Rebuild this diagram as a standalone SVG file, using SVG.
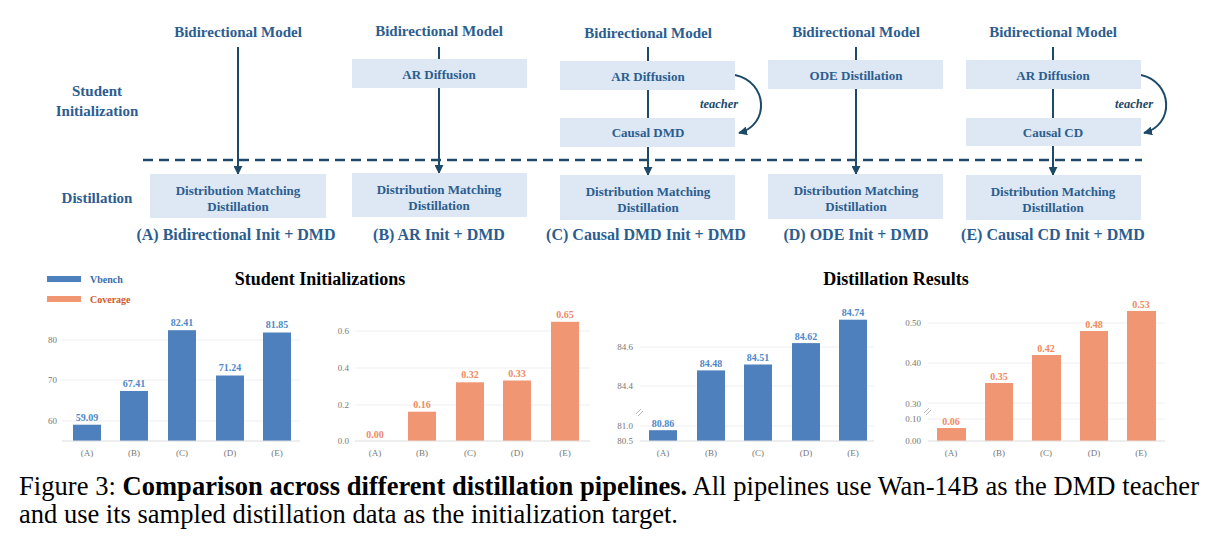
<svg xmlns="http://www.w3.org/2000/svg" width="1219" height="550" viewBox="0 0 1219 550">
<defs>
<marker id="ah2" viewBox="0 0 10 10" refX="9" refY="5" markerWidth="9" markerHeight="9" orient="auto" markerUnits="userSpaceOnUse">
<path d="M0,0 L10,5 L0,10 z" fill="#1c4a68"/>
</marker>
<style>
text{font-family:"Liberation Serif","Times New Roman",serif}
.t{font-size:15px;font-weight:bold;fill:#2c5d8f;text-anchor:middle}
.l{font-size:16px;font-weight:bold;fill:#2c5d8f;text-anchor:middle}
.b{font-size:13px;font-weight:bold;fill:#2c5d8f;text-anchor:middle}
.box{fill:#dde8f4}
.ln{stroke:#1c4a68;stroke-width:2;fill:none}
.it{font-size:12.5px;font-style:italic;font-weight:bold;fill:#1c4a68;text-anchor:middle}
.ax{font-size:9px;fill:#777;text-anchor:end}
.xl{font-size:9px;fill:#777;text-anchor:middle}
.g{stroke:#efefef;stroke-width:1}
.base{stroke:#dcdcdc;stroke-width:1}
.bl{fill:#4e80bd}
.or{fill:#f19672}
.vb{font-size:10px;font-weight:bold;fill:#5088c8;text-anchor:middle}
.vo{font-size:10px;font-weight:bold;fill:#f08a62;text-anchor:middle}
.ct{font-size:18px;font-weight:bold;fill:#000;text-anchor:middle}
.cap{font-size:26.5px;fill:#000}
.brk{stroke:#aaa;stroke-width:0.8}
</style>
</defs>
<rect width="1219" height="550" fill="#fff"/>

<g id="rowlabels">
<text class="t" x="97" y="96">Student</text>
<text class="t" x="97" y="116">Initialization</text>
<text class="t" x="97" y="203">Distillation</text>
</g>

<g id="connectors">
<line x1="143" y1="160" x2="1142" y2="160" stroke="#1c4a68" stroke-width="2.5" stroke-dasharray="10,6"/>
<line class="ln" x1="238" y1="47" x2="238" y2="174" marker-end="url(#ah2)"/>
<line class="ln" x1="439" y1="47" x2="439" y2="59"/>
<line class="ln" x1="439" y1="88" x2="439" y2="173" marker-end="url(#ah2)"/>
<line class="ln" x1="648" y1="47" x2="648" y2="61"/>
<line class="ln" x1="648" y1="90" x2="648" y2="118"/>
<line class="ln" x1="648" y1="147" x2="648" y2="175" marker-end="url(#ah2)"/>
<path class="ln" d="M735,75 C768,82 770,125 739,133" marker-end="url(#ah2)"/>
<line class="ln" x1="856" y1="47" x2="856" y2="60"/>
<line class="ln" x1="856" y1="89" x2="856" y2="174" marker-end="url(#ah2)"/>
<line class="ln" x1="1053" y1="47" x2="1053" y2="60"/>
<line class="ln" x1="1053" y1="89" x2="1053" y2="118"/>
<line class="ln" x1="1053" y1="146" x2="1053" y2="175" marker-end="url(#ah2)"/>
<path class="ln" d="M1141,75 C1173,82 1175,125 1144,133" marker-end="url(#ah2)"/>
<text class="it" x="719" y="108">teacher</text>
<text class="it" x="1134" y="108">teacher</text>
</g>

<g id="colA">
<text class="t" x="238" y="37">Bidirectional Model</text>
<rect class="box" x="150" y="174" width="176" height="44"/>
<text class="b" x="238" y="195">Distribution Matching</text>
<text class="b" x="238" y="211">Distillation</text>
<text class="l" x="236" y="240">(A) Bidirectional Init + DMD</text>
</g>
<g id="colB">
<text class="t" x="439" y="36">Bidirectional Model</text>
<rect class="box" x="352" y="59" width="175" height="29"/>
<text class="b" x="439" y="79">AR Diffusion</text>
<rect class="box" x="352" y="173" width="175" height="44"/>
<text class="b" x="439" y="194">Distribution Matching</text>
<text class="b" x="439" y="210">Distillation</text>
<text class="l" x="439" y="240">(B) AR Init + DMD</text>
</g>
<g id="colC">
<text class="t" x="648" y="38">Bidirectional Model</text>
<rect class="box" x="560" y="61" width="175" height="29"/>
<text class="b" x="648" y="81">AR Diffusion</text>
<rect class="box" x="560" y="118" width="175" height="29"/>
<text class="b" x="648" y="137">Causal DMD</text>
<rect class="box" x="560" y="175" width="175" height="45"/>
<text class="b" x="648" y="196">Distribution Matching</text>
<text class="b" x="648" y="212">Distillation</text>
<text class="l" x="646" y="240">(C) Causal DMD Init + DMD</text>
</g>
<g id="colD">
<text class="t" x="856" y="37">Bidirectional Model</text>
<rect class="box" x="768" y="60" width="175" height="29"/>
<text class="b" x="856" y="80">ODE Distillation</text>
<rect class="box" x="768" y="174" width="175" height="45"/>
<text class="b" x="856" y="195">Distribution Matching</text>
<text class="b" x="856" y="211">Distillation</text>
<text class="l" x="856" y="240">(D) ODE Init + DMD</text>
</g>
<g id="colE">
<text class="t" x="1053" y="37">Bidirectional Model</text>
<rect class="box" x="966" y="60" width="175" height="29"/>
<text class="b" x="1053" y="80">AR Diffusion</text>
<rect class="box" x="966" y="118" width="175" height="28"/>
<text class="b" x="1053" y="137">Causal CD</text>
<rect class="box" x="966" y="175" width="175" height="45"/>
<text class="b" x="1053" y="196">Distribution Matching</text>
<text class="b" x="1053" y="212">Distillation</text>
<text class="l" x="1053" y="240">(E) Causal CD Init + DMD</text>
</g>

<g id="legend">
<rect x="47" y="276" width="34" height="6" class="bl"/>
<text x="90" y="283" style="font-size:10px;font-weight:bold;fill:#3a6aa8">Vbench</text>
<rect x="47" y="296" width="34" height="6" class="or"/>
<text x="90" y="303" style="font-size:10px;font-weight:bold;fill:#d25a2c">Coverage</text>
</g>

<text class="ct" x="320" y="285">Student Initializations</text>
<text class="ct" x="896" y="285">Distillation Results</text>

<g id="chart1">
<line class="g" x1="62" y1="340" x2="300" y2="340"/>
<line class="g" x1="62" y1="380" x2="300" y2="380"/>
<line class="g" x1="62" y1="421" x2="300" y2="421"/>
<text class="ax" x="57" y="343">80</text>
<text class="ax" x="57" y="383">70</text>
<text class="ax" x="57" y="424">60</text>
<rect class="bl" x="73" y="424.7" width="28" height="16.3"/>
<rect class="bl" x="120" y="391" width="28" height="50"/>
<rect class="bl" x="168" y="330.2" width="28" height="110.8"/>
<rect class="bl" x="216" y="375.5" width="28" height="65.5"/>
<rect class="bl" x="263" y="332.5" width="28" height="108.5"/>
<line class="base" x1="62" y1="441" x2="300" y2="441"/>
<text class="vb" x="87" y="421">59.09</text>
<text class="vb" x="134" y="387">67.41</text>
<text class="vb" x="182" y="326">82.41</text>
<text class="vb" x="230" y="371">71.24</text>
<text class="vb" x="277" y="328">81.85</text>
<text class="xl" x="87" y="456">(A)</text>
<text class="xl" x="134" y="456">(B)</text>
<text class="xl" x="182" y="456">(C)</text>
<text class="xl" x="230" y="456">(D)</text>
<text class="xl" x="277" y="456">(E)</text>
</g>

<g id="chart2">
<line class="g" x1="355" y1="331" x2="590" y2="331"/>
<line class="g" x1="355" y1="368" x2="590" y2="368"/>
<line class="g" x1="355" y1="405" x2="590" y2="405"/>
<text class="ax" x="349" y="334">0.6</text>
<text class="ax" x="349" y="371">0.4</text>
<text class="ax" x="349" y="408">0.2</text>
<text class="ax" x="349" y="444">0.0</text>
<rect class="or" x="408" y="411.7" width="28" height="29.3"/>
<rect class="or" x="456" y="382.3" width="28" height="58.7"/>
<rect class="or" x="503" y="380.5" width="28" height="60.5"/>
<rect class="or" x="551" y="321.8" width="28" height="119.2"/>
<line class="base" x1="355" y1="441" x2="590" y2="441"/>
<text class="vo" x="375" y="438">0.00</text>
<text class="vo" x="422" y="408">0.16</text>
<text class="vo" x="470" y="378">0.32</text>
<text class="vo" x="517" y="377">0.33</text>
<text class="vo" x="565" y="318">0.65</text>
<text class="xl" x="375" y="456">(A)</text>
<text class="xl" x="422" y="456">(B)</text>
<text class="xl" x="470" y="456">(C)</text>
<text class="xl" x="517" y="456">(D)</text>
<text class="xl" x="565" y="456">(E)</text>
</g>

<g id="chart3">
<line class="g" x1="640" y1="347" x2="874" y2="347"/>
<line class="g" x1="640" y1="386" x2="874" y2="386"/>
<line class="g" x1="640" y1="426" x2="874" y2="426"/>
<text class="ax" x="633" y="350">84.6</text>
<text class="ax" x="633" y="389">84.4</text>
<text class="ax" x="633" y="429">81.0</text>
<text class="ax" x="633" y="444">80.5</text>
<line class="brk" x1="636" y1="414" x2="641" y2="409"/>
<line class="brk" x1="638" y1="416" x2="643" y2="411"/>
<rect class="bl" x="649" y="430.2" width="28" height="10.8"/>
<rect class="bl" x="697" y="370.4" width="28" height="70.6"/>
<rect class="bl" x="744" y="364.5" width="28" height="76.5"/>
<rect class="bl" x="792" y="343.1" width="28" height="97.9"/>
<rect class="bl" x="839" y="319.7" width="28" height="121.3"/>
<line class="base" x1="640" y1="441" x2="874" y2="441"/>
<text class="vb" x="663" y="427">80.86</text>
<text class="vb" x="711" y="367">84.48</text>
<text class="vb" x="758" y="361">84.51</text>
<text class="vb" x="806" y="340">84.62</text>
<text class="vb" x="853" y="316">84.74</text>
<text class="xl" x="663" y="456">(A)</text>
<text class="xl" x="711" y="456">(B)</text>
<text class="xl" x="758" y="456">(C)</text>
<text class="xl" x="806" y="456">(D)</text>
<text class="xl" x="853" y="456">(E)</text>
</g>

<g id="chart4">
<line class="g" x1="928" y1="323" x2="1165" y2="323"/>
<line class="g" x1="928" y1="363" x2="1165" y2="363"/>
<line class="g" x1="928" y1="403" x2="1165" y2="403"/>
<line class="g" x1="928" y1="419" x2="1165" y2="419"/>
<text class="ax" x="921" y="326">0.50</text>
<text class="ax" x="921" y="366">0.40</text>
<text class="ax" x="921" y="407">0.30</text>
<text class="ax" x="921" y="422">0.10</text>
<text class="ax" x="921" y="444">0.00</text>
<line class="brk" x1="924" y1="413" x2="929" y2="408"/>
<line class="brk" x1="926" y1="415" x2="931" y2="410"/>
<rect class="or" x="937" y="428" width="29" height="13"/>
<rect class="or" x="985" y="383" width="28" height="58"/>
<rect class="or" x="1032" y="355" width="29" height="86"/>
<rect class="or" x="1080" y="331" width="28" height="110"/>
<rect class="or" x="1127" y="311" width="29" height="130"/>
<line class="base" x1="928" y1="441" x2="1165" y2="441"/>
<text class="vo" x="951" y="425">0.06</text>
<text class="vo" x="999" y="380">0.35</text>
<text class="vo" x="1046" y="352">0.42</text>
<text class="vo" x="1094" y="328">0.48</text>
<text class="vo" x="1141" y="308">0.53</text>
<text class="xl" x="951" y="456">(A)</text>
<text class="xl" x="999" y="456">(B)</text>
<text class="xl" x="1046" y="456">(C)</text>
<text class="xl" x="1094" y="456">(D)</text>
<text class="xl" x="1141" y="456">(E)</text>
</g>

<g id="caption">
<text class="cap" x="19" y="495" textLength="1180" lengthAdjust="spacing">Figure 3: <tspan font-weight="bold">Comparison across different distillation pipelines.</tspan> All pipelines use Wan-14B as the DMD teacher</text>
<text class="cap" x="19" y="523">and use its sampled distillation data as the initialization target.</text>
</g>
</svg>
